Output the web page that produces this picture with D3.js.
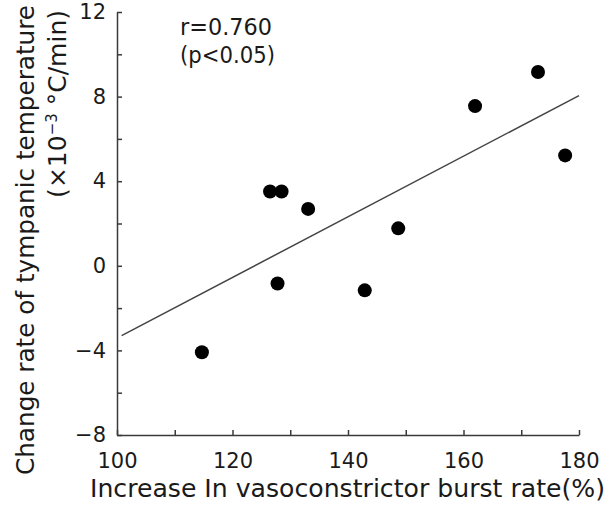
<!DOCTYPE html>
<html>
<head>
<meta charset="utf-8">
<script src="https://cdn.jsdelivr.net/npm/d3@7"></script>
<style>
  body { margin: 0; background: #fff; }
  text { font-family: "DejaVu Sans", sans-serif; fill: #1a1a1a; }
</style>
</head>
<body>
<svg id="chart" width="611" height="505"></svg>
<script>
// data
var burstRate = [114.7, 126.5, 128.5, 127.8, 133.1, 142.9, 148.7, 162.0, 172.9, 177.6];
var tempRate  = [-4.09, 3.51, 3.51, -0.84, 2.69, -1.16, 1.77, 7.55, 9.16, 5.22];

// regression line end points
var fitX = [100.8, 180];
var fitY = [-3.3, 8.05];

var xTicks = [100, 120, 140, 160, 180];
var xMinor = [110, 130, 150, 170];
var yTicks = [-8, -4, 0, 4, 8, 12];
var yMinor = [-6, -2, 2, 6, 10];

var svg = d3.select("#chart");

var x = d3.scaleLinear().domain([100, 180]).range([117, 579]);
var y = d3.scaleLinear().domain([-8, 12]).range([435, 12]);

var axisColor = "#3a3a3a";

// y axis, ticks pointing inward
var gy = svg.append("g").attr("transform", "translate(" + x(100) + ",0)")
  .call(d3.axisLeft(y).tickValues(yTicks).tickSizeInner(-5).tickSizeOuter(0).tickPadding(11));
svg.append("g").attr("transform", "translate(" + x(100) + ",0)")
  .call(d3.axisLeft(y).tickValues(yMinor).tickSizeInner(-5).tickSizeOuter(0).tickFormat(""))
  .select(".domain").remove();

// x axis
var gx = svg.append("g").attr("transform", "translate(0," + y(-8) + ")")
  .call(d3.axisBottom(x).tickValues(xTicks).tickSizeInner(-5).tickSizeOuter(0).tickPadding(18));
svg.append("g").attr("transform", "translate(0," + y(-8) + ")")
  .call(d3.axisBottom(x).tickValues(xMinor).tickSizeInner(-5).tickSizeOuter(0).tickFormat(""))
  .select(".domain").remove();

svg.selectAll(".domain, .tick line").attr("stroke", axisColor).attr("stroke-width", 1.5);
svg.selectAll(".tick text").attr("font-family", "DejaVu Sans, sans-serif")
  .attr("font-size", 21).attr("fill", "#1a1a1a");
gx.selectAll(".tick text").attr("dy", "0.71em");

// fitted line
svg.append("line")
  .attr("x1", x(fitX[0])).attr("y1", y(fitY[0]))
  .attr("x2", x(fitX[1])).attr("y2", y(fitY[1]))
  .attr("stroke", "#444").attr("stroke-width", 1.5);

// points
svg.selectAll("circle.pt")
  .data(burstRate)
  .join("circle")
  .attr("class", "pt")
  .attr("cx", function(d) { return x(d); })
  .attr("cy", function(d, i) { return y(tempRate[i]); })
  .attr("r", 7)
  .attr("fill", "#000");

// stats note
svg.append("text").attr("x", 180).attr("y", 35).attr("font-size", 23)
  .attr("textLength", 92).attr("lengthAdjust", "spacingAndGlyphs").text("r=0.760");
svg.append("text").attr("x", 180).attr("y", 63).attr("font-size", 23)
  .attr("textLength", 95).attr("lengthAdjust", "spacingAndGlyphs").text("(p<0.05)");

// x title
svg.append("text")
  .attr("x", 90).attr("y", 497)
  .attr("font-size", 25)
  .attr("textLength", 515).attr("lengthAdjust", "spacingAndGlyphs")
  .text("Increase In vasoconstrictor burst rate(%)");

// y title, two lines anchored at the top
var yt = svg.append("g").attr("transform", "rotate(-90)");
yt.append("text")
  .attr("x", -5).attr("y", 34)
  .attr("text-anchor", "end")
  .attr("font-size", 25)
  .attr("textLength", 470).attr("lengthAdjust", "spacingAndGlyphs")
  .text("Change rate of tympanic temperature");
var yt2 = yt.append("text")
  .attr("x", -10).attr("y", 66)
  .attr("text-anchor", "end")
  .attr("font-size", 25);
yt2.append("tspan").text("(×10");
yt2.append("tspan").attr("dy", -9).attr("font-size", 15).text("−3");
yt2.append("tspan").attr("dy", 9).text(" °C/min)");
</script>
</body>
</html>
